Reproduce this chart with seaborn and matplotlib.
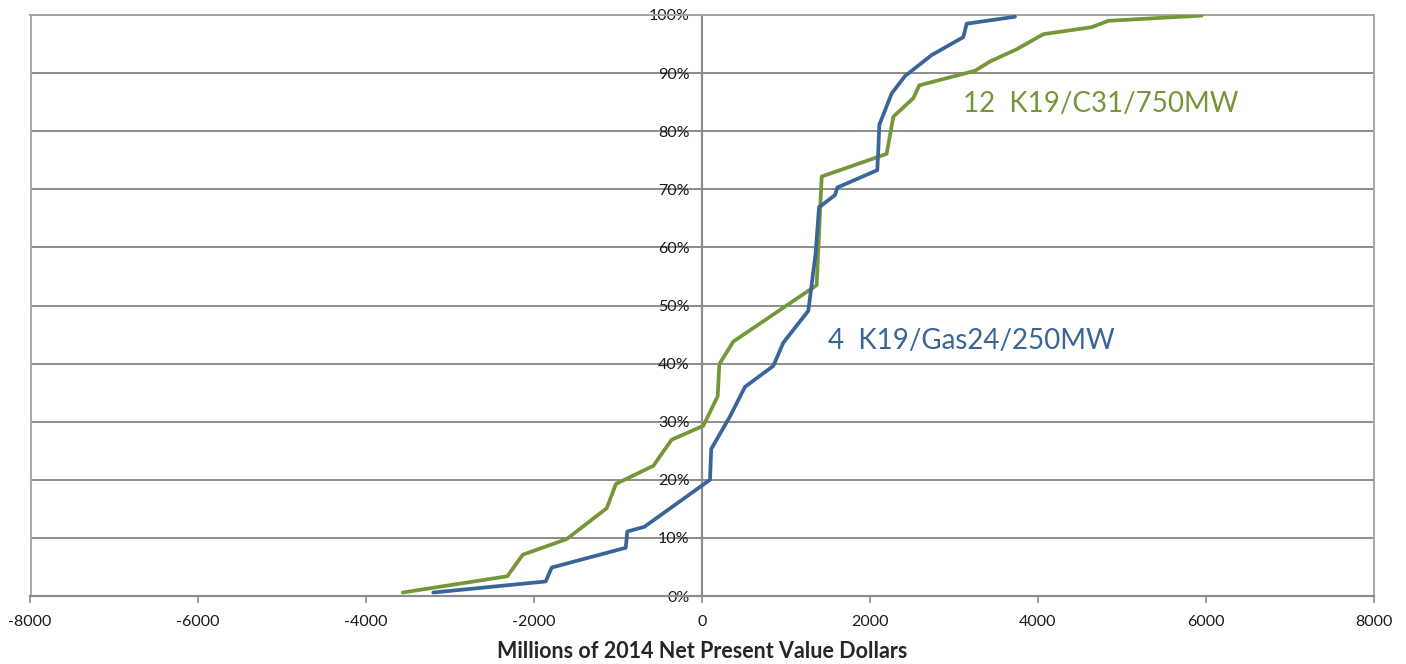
import matplotlib
matplotlib.use("Agg")
import matplotlib.pyplot as plt
import seaborn as sns
import pandas as pd
from matplotlib.ticker import FuncFormatter, MultipleLocator

# Series: Net present value (millions $) vs cumulative probability (%)
gas_npv = [-3199, -1861, -1789, -908, -889, -687, 95, 110, 333, 512, 849, 968, 1266,
           1353, 1393, 1583, 1611, 2087, 2099, 2111, 2258, 2417, 2734, 3111, 3151, 3726]
gas_pct = [0.6, 2.5, 4.9, 8.3, 11.1, 11.9, 20.0, 25.3, 30.9, 36.0, 39.6, 43.6, 49.1,
           59.0, 66.9, 69.0, 70.3, 73.3, 76.8, 81.1, 86.5, 89.5, 93.1, 96.2, 98.5, 99.7]

coal_npv = [-3563, -2317, -2135, -1611, -1135, -1024, -580, -361, 16, 187, 206, 373, 1365,
            1425, 2198, 2278, 2516, 2587, 3250, 3429, 3746, 4063, 4639, 4837, 5949]
coal_pct = [0.6, 3.4, 7.1, 9.8, 15.1, 19.3, 22.4, 26.9, 29.3, 34.4, 39.9, 43.8, 53.5,
            72.2, 76.1, 82.5, 85.7, 87.9, 90.4, 92.0, 94.1, 96.7, 97.9, 99.0, 99.9]

gas_label = "4  K19/Gas24/250MW"
coal_label = "12  K19/C31/750MW"
x_label = "Millions of 2014 Net Present Value Dollars"
x_ticks = [-8000, -6000, -4000, -2000, 0, 2000, 4000, 6000, 8000]

BLUE = "#3A6598"
GREEN = "#76963A"
GRID = "#8C8C8C"
FRAME = "#A6A6A6"

sns.set_style("white")
plt.rcParams["font.family"] = ["Lato", "DejaVu Sans"]
plt.rcParams["axes.unicode_minus"] = False

fig = plt.figure(figsize=(14.06, 6.64), dpi=100)
ax = fig.add_axes([30 / 1406, 1 - 596 / 664, (1374 - 30) / 1406, (596 - 15) / 664])

gas_df = pd.DataFrame({"npv": gas_npv, "pct": gas_pct})
coal_df = pd.DataFrame({"npv": coal_npv, "pct": coal_pct})

sns.lineplot(data=coal_df, x="npv", y="pct", sort=False, color=GREEN, lw=2.7, ax=ax, zorder=3)
sns.lineplot(data=gas_df, x="npv", y="pct", sort=False, color=BLUE, lw=2.7, ax=ax, zorder=4)

ax.set_xlim(-8000, 8000)
ax.set_ylim(0, 100)
ax.set_xticks(x_ticks)
ax.yaxis.set_major_locator(MultipleLocator(10))
ax.yaxis.set_major_formatter(FuncFormatter(lambda v, p: f"{int(round(v))}%"))

ax.grid(axis="y", color=GRID, lw=1.4)
ax.grid(axis="x", visible=False)
ax.set_axisbelow(True)

# y-axis located at x = 0
ax.spines["left"].set_position(("data", 0))
ax.spines["left"].set_color(GRID)
ax.spines["left"].set_linewidth(1.6)
ax.spines["bottom"].set_color(GRID)
ax.spines["bottom"].set_linewidth(1.6)
ax.spines["top"].set_color(FRAME)
ax.spines["top"].set_linewidth(1.4)
ax.spines["right"].set_color(FRAME)
ax.spines["right"].set_linewidth(1.4)
ax.axvline(-8000, color=FRAME, lw=2.0, zorder=1)

ax.tick_params(axis="x", direction="out", length=5, width=1.2, color=GRID,
               labelsize=11.5, pad=9, bottom=True)
ax.tick_params(axis="y", direction="out", length=5, width=1.2, color=GRID,
               labelsize=11.5, pad=4, left=True)
for lab in ax.get_xticklabels() + ax.get_yticklabels():
    lab.set_color("#1a1a1a")

ax.set_ylabel("")
ax.set_xlabel(x_label, fontsize=15.5, fontweight="bold", labelpad=8)

ax.text(1500, 43.9, gas_label, color=BLUE, fontsize=20, va="center", ha="left")
ax.text(3107, 84.7, coal_label, color=GREEN, fontsize=20, va="center", ha="left")

fig.savefig("out.png", dpi=100)
